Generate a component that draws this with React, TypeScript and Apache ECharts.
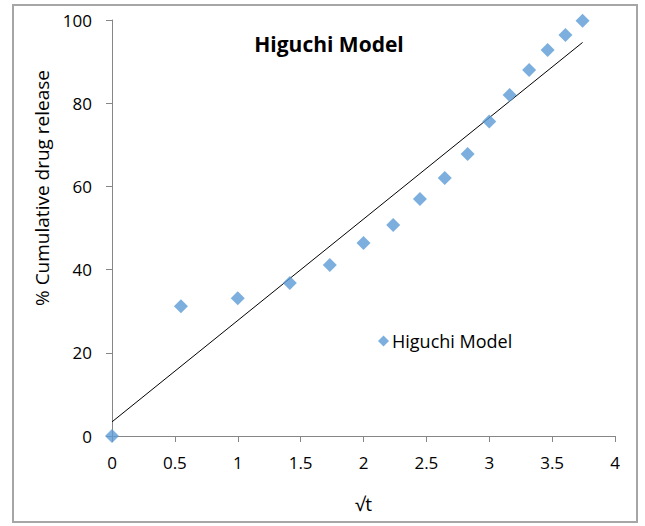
import React, { useEffect, useRef } from "react";
import * as echarts from "echarts";

const sqrtT = [0, 0.548, 1, 1.414, 1.732, 2, 2.236, 2.449, 2.646, 2.828, 3, 3.162, 3.317, 3.464, 3.606, 3.742];
const release = [0, 31.2, 33.1, 36.8, 41.1, 46.4, 50.7, 57.0, 62.0, 67.8, 75.6, 82.0, 88.0, 92.8, 96.4, 99.8];
const trendX = [0, 3.742];
const trendY = [3.4, 94.6];
const seriesName = "Higuchi Model";
const titleText = "Higuchi Model";
const xName = "√t";
const yName = "% Cumulative drug release";

const FONT = "'Open Sans', 'Liberation Sans', sans-serif";

export default function App() {
  const ref = useRef<HTMLDivElement>(null);
  useEffect(() => {
    document.body.style.margin = "0";
    const chart = echarts.init(ref.current!, null, { renderer: "svg" });
    chart.setOption({
      animation: false,
      backgroundColor: "#ffffff",
      textStyle: { fontFamily: FONT },
      title: {
        text: titleText,
        left: 324,
        top: 28,
        textAlign: "center",
        textStyle: { fontFamily: FONT, fontSize: 21, fontWeight: "bold", color: "#000" },
      },
      legend: {
        data: [seriesName],
        left: 373,
        top: 327,
        icon: "diamond",
        itemWidth: 11,
        itemHeight: 11,
        itemGap: 4,
        textStyle: { fontFamily: FONT, fontSize: 18, color: "#000", padding: [0, 0, 0, -2] },
      },
      grid: { left: 112, right: 30, top: 20, bottom: 90, containLabel: false },
      xAxis: {
        type: "value",
        min: 0,
        max: 4,
        interval: 0.5,
        name: xName,
        nameLocation: "middle",
        nameGap: 58,
        nameTextStyle: { fontFamily: FONT, fontSize: 19, color: "#000" },
        axisLine: { show: true, lineStyle: { color: "#868686", width: 1 } },
        axisTick: { show: true, length: 6, lineStyle: { color: "#868686" } },
        axisLabel: { margin: 18, fontFamily: FONT, fontSize: 17, color: "#000" },
        splitLine: { show: false },
      },
      yAxis: {
        type: "value",
        min: 0,
        max: 100,
        interval: 20,
        axisLine: { show: true, lineStyle: { color: "#868686", width: 1 } },
        axisTick: { show: true, length: 6, lineStyle: { color: "#868686" } },
        axisLabel: { margin: 20, fontFamily: FONT, fontSize: 17, color: "#000" },
        splitLine: { show: false },
      },
      graphic: [
        {
          type: "rect",
          shape: { x: 13, y: 5, width: 624, height: 517 },
          style: { fill: "none", stroke: "#a6a6a6", lineWidth: 2 },
          silent: true,
        },
        {
          type: "text",
          x: 42,
          y: 188,
          rotation: Math.PI / 2,
          style: {
            text: yName,
            fontFamily: FONT,
            fontSize: 19,
            fill: "#000",
            align: "center",
            verticalAlign: "middle",
          },
        },
      ],
      series: [
        {
          name: "trend",
          type: "line",
          data: trendX.map((x, i) => [x, trendY[i]]),
          symbol: "none",
          lineStyle: { color: "#000", width: 1 },
          z: 1,
        },
        {
          name: seriesName,
          type: "scatter",
          data: sqrtT.map((x, i) => [x, release[i]]),
          symbol: "diamond",
          symbolSize: 14,
          itemStyle: { color: "#5b9bd5" },
          z: 2,
        },
      ],
    });
    return () => chart.dispose();
  }, []);
  return <div ref={ref} style={{ width: 645, height: 526 }} />;
}
